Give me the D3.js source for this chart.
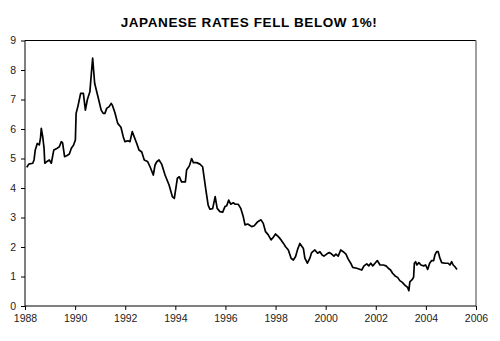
<!DOCTYPE html>
<html>
<head>
<meta charset="utf-8">
<script src="https://cdn.jsdelivr.net/npm/d3@7"></script>
<style>
  html, body { margin: 0; padding: 0; background: #fff; }
  svg { display: block; }
</style>
</head>
<body>
<svg id="chart" width="500" height="341"></svg>
<script>
const title = "JAPANESE RATES FELL BELOW 1%!";
const yTicks = [0, 1, 2, 3, 4, 5, 6, 7, 8, 9];
const xTicks = [1988, 1990, 1992, 1994, 1996, 1998, 2000, 2002, 2004, 2006];

const years = [
  1988.07,1988.15,1988.31,1988.36,1988.41,1988.49,1988.57,1988.62,1988.65,1988.71,
  1988.76,1988.79,1988.88,1988.97,1989.05,1989.15,1989.29,1989.37,1989.45,1989.50,
  1989.58,1989.68,1989.77,1989.85,1989.94,1990.01,1990.04,1990.11,1990.22,1990.33,
  1990.41,1990.49,1990.59,1990.65,1990.70,1990.78,1990.91,1991.04,1991.12,1991.19,
  1991.26,1991.36,1991.44,1991.49,1991.59,1991.70,1991.83,1991.92,1991.99,1992.11,
  1992.19,1992.28,1992.46,1992.55,1992.66,1992.76,1992.89,1992.99,1993.12,1993.19,
  1993.26,1993.35,1993.46,1993.59,1993.75,1993.88,1993.96,1994.08,1994.16,1994.25,
  1994.40,1994.45,1994.56,1994.65,1994.72,1994.85,1994.98,1995.09,1995.22,1995.31,
  1995.38,1995.49,1995.59,1995.67,1995.78,1995.89,1995.98,1996.05,1996.13,1996.21,
  1996.31,1996.39,1996.51,1996.61,1996.71,1996.78,1996.89,1997.05,1997.15,1997.29,
  1997.42,1997.51,1997.60,1997.71,1997.82,1997.91,1998.00,1998.11,1998.22,1998.31,
  1998.40,1998.51,1998.62,1998.71,1998.80,1998.88,1998.97,1999.11,1999.17,1999.27,
  1999.37,1999.44,1999.57,1999.68,1999.77,1999.86,1999.93,2000.04,2000.14,2000.24,
  2000.33,2000.41,2000.50,2000.60,2000.70,2000.81,2000.90,2001.00,2001.08,2001.24,
  2001.44,2001.53,2001.64,2001.72,2001.80,2001.88,2001.97,2002.06,2002.17,2002.30,
  2002.41,2002.50,2002.59,2002.67,2002.77,2002.87,2002.96,2003.06,2003.16,2003.27,
  2003.32,2003.36,2003.46,2003.51,2003.54,2003.59,2003.64,2003.72,2003.80,2003.91,
  2003.99,2004.07,2004.15,2004.23,2004.31,2004.36,2004.43,2004.49,2004.55,2004.63,
  2004.76,2004.89,2004.96,2005.03,2005.09,2005.16,2005.24
];
const rates = [
  4.70,4.81,4.84,4.95,5.29,5.51,5.46,5.70,6.02,5.72,
  5.35,4.84,4.90,4.95,4.84,5.29,5.35,5.40,5.57,5.53,
  5.06,5.10,5.15,5.35,5.46,5.63,6.53,6.76,7.21,7.21,
  6.64,7.00,7.26,7.90,8.40,7.55,7.10,6.64,6.53,6.53,
  6.70,6.76,6.87,6.80,6.55,6.19,6.06,5.74,5.57,5.60,
  5.57,5.91,5.51,5.29,5.22,4.95,4.90,4.72,4.44,4.78,
  4.89,4.95,4.80,4.44,4.10,3.71,3.65,4.33,4.38,4.21,
  4.21,4.61,4.75,5.00,4.86,4.86,4.81,4.72,3.93,3.42,
  3.28,3.30,3.71,3.31,3.20,3.18,3.37,3.40,3.59,3.45,
  3.50,3.45,3.45,3.31,3.03,2.75,2.78,2.69,2.72,2.86,
  2.92,2.80,2.52,2.41,2.24,2.33,2.44,2.35,2.24,2.13,
  2.01,1.90,1.62,1.56,1.68,1.92,2.12,1.95,1.62,1.45,
  1.62,1.81,1.90,1.79,1.84,1.73,1.69,1.76,1.81,1.76,
  1.69,1.76,1.69,1.90,1.84,1.76,1.59,1.45,1.31,1.28,
  1.22,1.36,1.43,1.36,1.45,1.36,1.45,1.54,1.39,1.39,
  1.36,1.28,1.22,1.11,1.02,0.97,0.86,0.80,0.71,0.63,
  0.52,0.82,0.90,0.98,1.45,1.50,1.39,1.47,1.39,1.36,
  1.39,1.24,1.45,1.54,1.54,1.73,1.84,1.84,1.65,1.47,
  1.45,1.45,1.39,1.50,1.39,1.33,1.24
];

const data = years.map((y, i) => ({ year: y, rate: rates[i] }));

const svg = d3.select("#chart");
const margin = { top: 40.5, right: 24, bottom: 35, left: 25 };
const W = 500, H = 341;
const iw = W - margin.left - margin.right;
const ih = H - margin.top - margin.bottom;

const x = d3.scaleLinear().domain([1988, 2006]).range([margin.left, margin.left + iw]);
const y = d3.scaleLinear().domain([0, 9]).range([margin.top + ih, margin.top]);

svg.append("rect").attr("width", W).attr("height", H).attr("fill", "#fff");

svg.append("text")
  .attr("x", 249).attr("y", 26.5)
  .attr("text-anchor", "middle")
  .attr("font-family", "Liberation Sans, Arial, sans-serif")
  .attr("font-weight", "bold")
  .attr("font-size", 13.5)
  .attr("letter-spacing", 0.6)
  .attr("fill", "#000")
  .text(title);

// frame: top and right
svg.append("line")
  .attr("x1", x(1988)).attr("x2", x(2006))
  .attr("y1", y(9)).attr("y2", y(9))
  .attr("stroke", "#000").attr("stroke-width", 1);
svg.append("line")
  .attr("x1", x(2006)).attr("x2", x(2006))
  .attr("y1", y(9)).attr("y2", y(0))
  .attr("stroke", "#808080").attr("stroke-width", 1.5);

const yAxis = d3.axisLeft(y).tickValues(yTicks).tickFormat(d3.format("d")).tickSize(4).tickPadding(5);
const gy = svg.append("g").attr("transform", `translate(${x(1988)},0)`).call(yAxis);
const xAxis = d3.axisBottom(x).tickValues(xTicks).tickFormat(d3.format("d")).tickSize(4).tickPadding(5);
const gx = svg.append("g").attr("transform", `translate(0,${y(0)})`).call(xAxis);

[gx, gy].forEach(g => {
  g.select(".domain").attr("stroke", "#000").attr("stroke-width", 1);
  g.selectAll(".tick line").attr("stroke", "#000");
  g.selectAll("text")
    .attr("font-family", "Liberation Sans, Arial, sans-serif")
    .attr("font-size", 10.5)
    .attr("fill", "#222");
});
gy.select(".domain").attr("d", `M0,${y(0)}V${y(9)}`);
gx.select(".domain").attr("d", `M${x(1988)},0H${x(2006)}`);

const line = d3.line().x(d => x(d.year)).y(d => y(d.rate));
svg.append("path")
  .datum(data)
  .attr("d", line)
  .attr("fill", "none")
  .attr("stroke", "#000")
  .attr("stroke-width", 1.7)
  .attr("stroke-linejoin", "round");
</script>
</body>
</html>
